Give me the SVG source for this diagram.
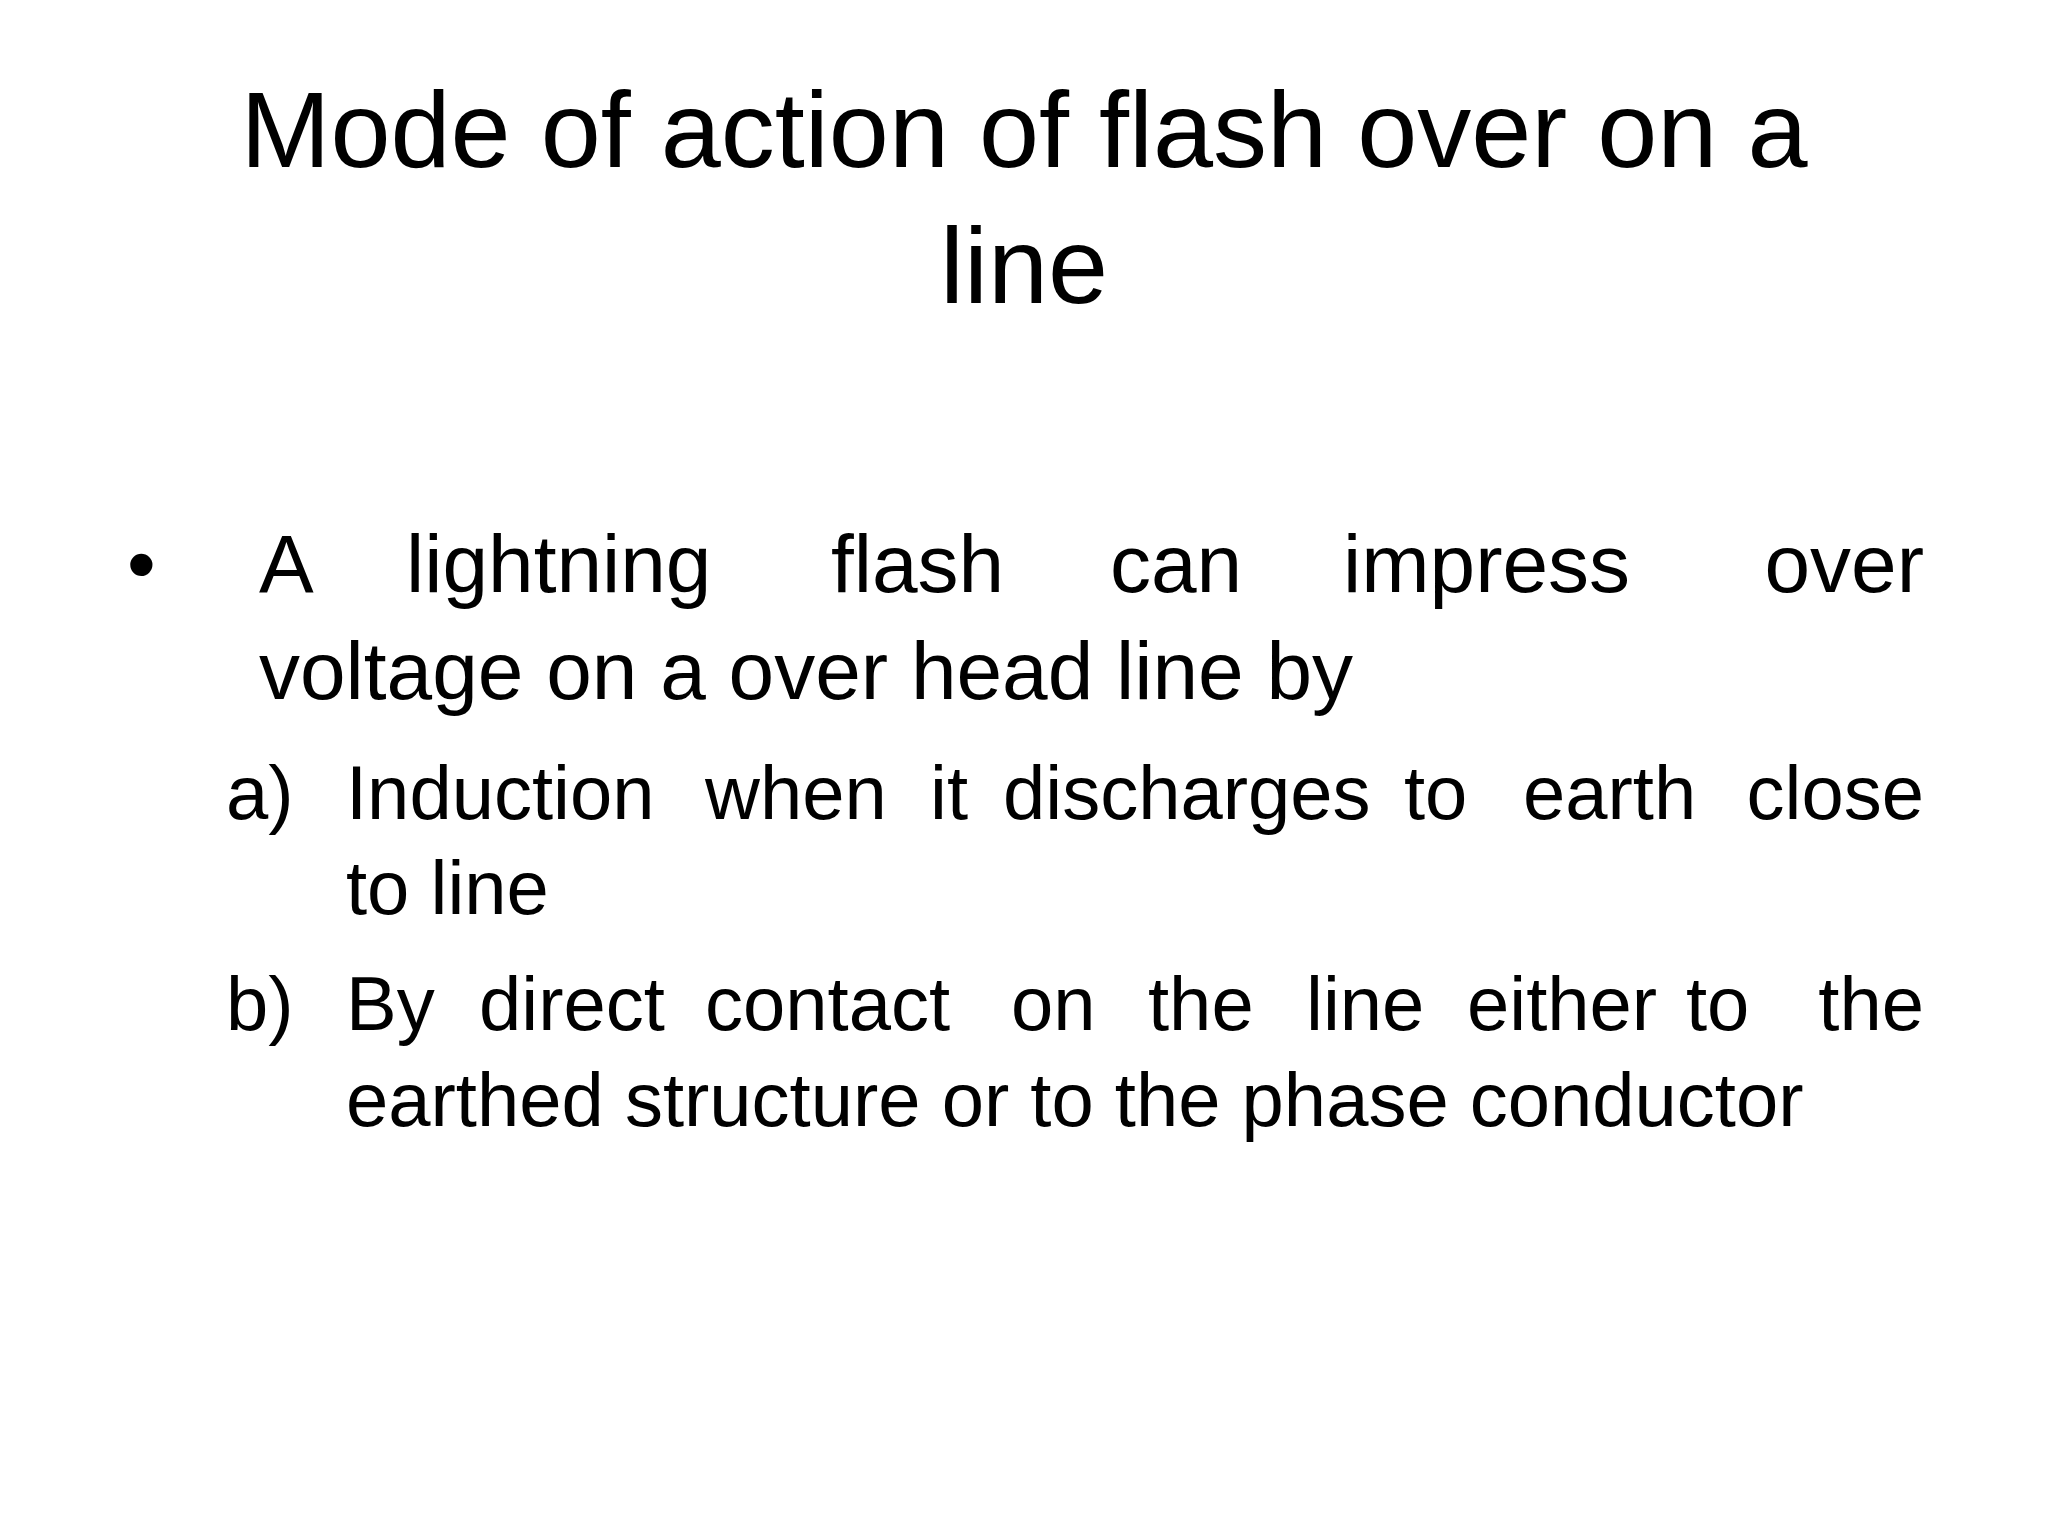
<svg xmlns="http://www.w3.org/2000/svg" width="2048" height="1536" viewBox="0 0 2048 1536">
<style>
text{font-family:"Liberation Sans",Arial,sans-serif;fill:#000}
.t{font-size:108px;text-anchor:middle}
.b{font-size:82px}
.s{font-size:76px}
.e{text-anchor:end}
</style>
<rect width="2048" height="1536" fill="#fff"/>
<g id="title">
<text class="t" x="1024" y="167">Mode of action of flash over on a</text>
<text class="t" x="1024" y="303">line</text>
</g>
<g id="bullet">
<text class="b" x="127" y="592">•</text>
<text class="b" y="592"><tspan x="259">A</tspan><tspan x="406">lightning</tspan><tspan x="831">flash</tspan><tspan x="1110">can</tspan><tspan x="1343">impress</tspan></text>
<text class="b e" x="1924" y="592">over</text>
<text class="b" x="259" y="699">voltage on a over head line by</text>
</g>
<g id="item-a">
<text class="s" x="226" y="819">a)</text>
<text class="s" y="819"><tspan x="346">Induction</tspan><tspan x="705">when</tspan><tspan x="930">it</tspan><tspan x="1003">discharges</tspan><tspan x="1404">to</tspan><tspan x="1523">earth</tspan></text>
<text class="s e" x="1924" y="819">close</text>
<text class="s" x="346" y="914">to line</text>
</g>
<g id="item-b">
<text class="s" x="226" y="1030">b)</text>
<text class="s" y="1030"><tspan x="346">By</tspan><tspan x="479">direct</tspan><tspan x="705">contact</tspan><tspan x="1011">on</tspan><tspan x="1148">the</tspan><tspan x="1306">line</tspan><tspan x="1467">either</tspan><tspan x="1686">to</tspan></text>
<text class="s e" x="1924" y="1030">the</text>
<text class="s" x="346" y="1126">earthed structure or to the phase conductor</text>
</g>
</svg>
